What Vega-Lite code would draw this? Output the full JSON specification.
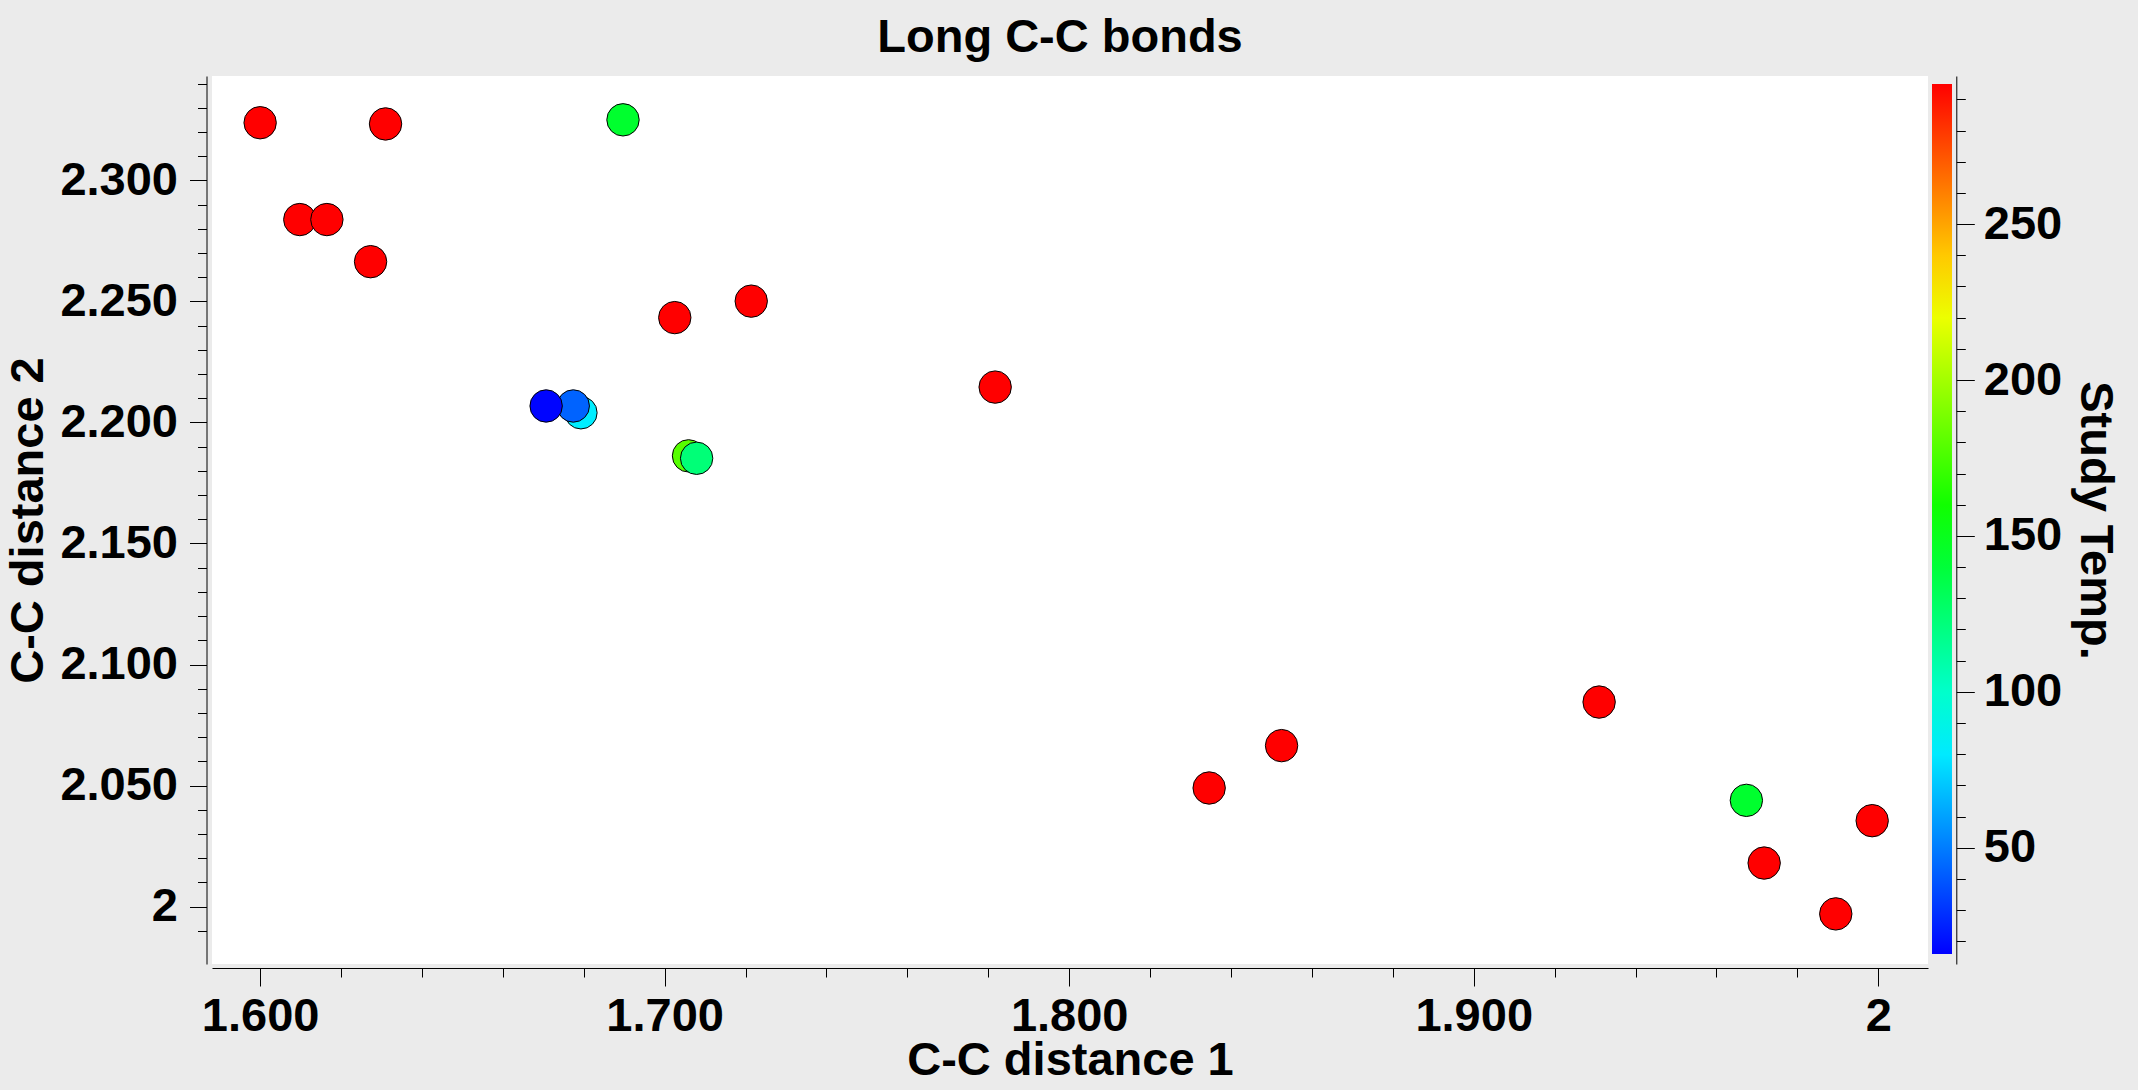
{
  "$schema": "https://vega.github.io/schema/vega-lite/v6.json",
  "width": 1716,
  "height": 888,
  "autosize": {"type": "none"},
  "padding": {"left": 212, "top": 76, "right": 210, "bottom": 126},
  "background": "#ebebeb",
  "title": {
    "text": "Long C-C bonds",
    "fontSize": 47,
    "fontWeight": "bold",
    "font": "Liberation Sans",
    "color": "black",
    "anchor": "middle",
    "frame": "group",
    "baseline": "alphabetic",
    "offset": 21,
    "dx": -10,
    "dy": 44
  },
  "config": {
    "view": {"fill": "white", "stroke": null},
    "font": "Liberation Sans",
    "axis": {
      "grid": false,
      "domainColor": "black",
      "tickColor": "black",
      "labelColor": "black",
      "titleColor": "black",
      "labelFont": "Liberation Sans",
      "titleFont": "Liberation Sans",
      "labelFontSize": 47,
      "titleFontSize": 47,
      "labelFontWeight": "bold",
      "titleFontWeight": "bold"
    }
  },
  "data": {
    "values": [
      {"d1": 1.6000, "d2": 2.3238, "temp": 295},
      {"d1": 1.6310, "d2": 2.3233, "temp": 295},
      {"d1": 1.6897, "d2": 2.3250, "temp": 143},
      {"d1": 1.6098, "d2": 2.2838, "temp": 295},
      {"d1": 1.6165, "d2": 2.2838, "temp": 295},
      {"d1": 1.6273, "d2": 2.2664, "temp": 295},
      {"d1": 1.7025, "d2": 2.2433, "temp": 295},
      {"d1": 1.7214, "d2": 2.2501, "temp": 295},
      {"d1": 1.6793, "d2": 2.2040, "temp": 81},
      {"d1": 1.6774, "d2": 2.2068, "temp": 43},
      {"d1": 1.6707, "d2": 2.2068, "temp": 17},
      {"d1": 1.7817, "d2": 2.2146, "temp": 295},
      {"d1": 1.7059, "d2": 2.1862, "temp": 179},
      {"d1": 1.7079, "d2": 2.1852, "temp": 123},
      {"d1": 1.8346, "d2": 2.0490, "temp": 295},
      {"d1": 1.8525, "d2": 2.0665, "temp": 295},
      {"d1": 1.9310, "d2": 2.0845, "temp": 295},
      {"d1": 1.9674, "d2": 2.0439, "temp": 143},
      {"d1": 1.9718, "d2": 2.0180, "temp": 295},
      {"d1": 1.9985, "d2": 2.0355, "temp": 295},
      {"d1": 1.9895, "d2": 1.9970, "temp": 295}
    ]
  },
  "layer": [
    {
      "mark": {"type": "point", "filled": true, "shape": "circle", "size": 1050, "opacity": 1, "stroke": "black", "strokeWidth": 1},
      "encoding": {
        "x": {
          "field": "d1", "type": "quantitative",
          "scale": {"domain": [1.5881, 2.0123], "nice": false, "zero": false},
          "axis": {
            "values": [1.6, 1.7, 1.8, 1.9, 2.0],
            "labelExpr": "datum.value == 2 ? '2' : format(datum.value, '.3f')",
            "offset": 4, "tickSize": 18, "labelPadding": 7,
            "title": "C-C distance 1", "titleBaseline": "alphabetic", "titleY": 106
          }
        },
        "y": {
          "field": "d2", "type": "quantitative",
          "scale": {"domain": [1.9763, 2.3431], "nice": false, "zero": false},
          "axis": {
            "values": [2.0, 2.05, 2.1, 2.15, 2.2, 2.25, 2.3],
            "labelExpr": "datum.value == 2 ? '2' : format(datum.value, '.3f')",
            "offset": 5.5, "tickSize": 17, "labelPadding": 12,
            "title": "C-C distance 2", "titleAngle": -90, "titleBaseline": "alphabetic",
            "titleAlign": "center", "titleX": -164, "titleY": 444
          }
        },
        "color": {
          "field": "temp", "type": "quantitative",
          "scale": {"domain": [16, 295], "range": ["#0000ff", "#00ffff", "#00ff00", "#ffff00", "#ff0000"], "interpolate": "rgb"},
          "legend": {
            "orient": "none", "legendX": 1720, "legendY": 8, "direction": "vertical",
            "gradientLength": 870, "gradientThickness": 20, "gradientStrokeWidth": 0,
            "labelOpacity": 0, "title": null, "padding": 0
          }
        }
      }
    },
    {
      "mark": {"type": "point", "opacity": 0},
      "encoding": {
        "x": {
          "field": "d1", "type": "quantitative",
          "scale": {"domain": [1.5881, 2.0123], "nice": false, "zero": false},
          "axis": {
            "values": [1.62, 1.64, 1.66, 1.68, 1.72, 1.74, 1.76, 1.78, 1.82, 1.84, 1.86, 1.88, 1.92, 1.94, 1.96, 1.98],
            "offset": 4, "tickSize": 9, "labels": false, "domain": false, "title": null, "orient": "bottom"
          }
        },
        "y": {
          "field": "d2", "type": "quantitative",
          "scale": {"domain": [1.9763, 2.3431], "nice": false, "zero": false},
          "axis": {
            "values": [1.99, 2.01, 2.02, 2.03, 2.04, 2.06, 2.07, 2.08, 2.09, 2.11, 2.12, 2.13, 2.14, 2.16, 2.17, 2.18, 2.19, 2.21, 2.22, 2.23, 2.24, 2.26, 2.27, 2.28, 2.29, 2.31, 2.32, 2.33, 2.34],
            "offset": 5.5, "tickSize": 9, "labels": false, "domain": false, "title": null, "orient": "left"
          }
        }
      }
    },
    {
      "mark": {"type": "point", "opacity": 0},
      "encoding": {
        "y": {
          "field": "temp", "type": "quantitative",
          "scale": {"domain": [12.7, 297.5], "nice": false, "zero": false},
          "axis": {
            "orient": "right", "values": [50, 100, 150, 200, 250],
            "offset": 28.3, "tickSize": 18, "labelPadding": 9,
            "title": "Study Temp.", "titleAngle": 90, "titleBaseline": "alphabetic",
            "titleAlign": "center", "titleX": 124, "titleY": 444
          }
        }
      }
    },
    {
      "mark": {"type": "point", "opacity": 0},
      "encoding": {
        "y": {
          "field": "temp", "type": "quantitative",
          "scale": {"domain": [12.7, 297.5], "nice": false, "zero": false},
          "axis": {
            "orient": "right",
            "values": [20, 30, 40, 60, 70, 80, 90, 110, 120, 130, 140, 160, 170, 180, 190, 210, 220, 230, 240, 260, 270, 280, 290],
            "offset": 28.3, "tickSize": 9, "labels": false, "domain": false, "title": null
          }
        }
      }
    }
  ],
  "resolve": {
    "scale": {"x": "independent", "y": "independent"},
    "axis": {"x": "independent", "y": "independent"}
  }
}
